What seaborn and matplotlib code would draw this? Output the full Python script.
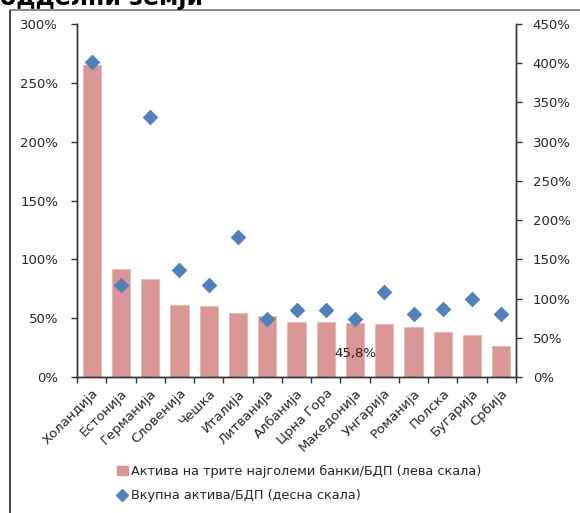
import numpy as np
import pandas as pd
import seaborn as sns
import matplotlib.pyplot as plt
from matplotlib.patches import Patch
from matplotlib.lines import Line2D
from matplotlib.ticker import PercentFormatter

# data
countries = ['Холандија', 'Естонија', 'Германија', 'Словенија', 'Чешка', 'Италија',
             'Литванија', 'Албанија', 'Црна Гора', 'Македонија', 'Унгарија',
             'Романија', 'Полска', 'Бугарија', 'Србија']
top3_assets = [265, 92, 83, 61.5, 60.5, 54.5, 51.5, 47, 46.5, 45.8, 45.3, 42.5, 38, 35.5, 26.5]
total_assets = [401, 117, 331, 137, 117, 179, 74, 85, 86, 74, 108, 80, 87, 100, 80]
left_ticks = [0, 50, 100, 150, 200, 250, 300]
right_ticks = [0, 50, 100, 150, 200, 250, 300, 350, 400, 450]

label_bar = 'Актива на трите најголеми банки/БДП (лева скала)'
label_pts = 'Вкупна актива/БДП (десна скала)'

BAR_COLOR = '#D99694'
PT_COLOR = '#4F81BD'
AXIS_COLOR = '#333333'

sns.set_style('ticks')
plt.rcParams['font.family'] = ['DejaVu Sans']

df = pd.DataFrame({'country': countries, 'top3': top3_assets, 'total': total_assets})

fig = plt.figure(figsize=(5.8, 5.13), dpi=100)
ax = fig.add_axes([77/580, 1 - 377/513, (516 - 77)/580, (377 - 24)/513])

sns.barplot(data=df, x='country', y='top3', color=BAR_COLOR, saturation=1,
            width=0.62, ax=ax, edgecolor='#E6B3B1', linewidth=0.5)

ax2 = ax.twinx()
sns.scatterplot(x=np.arange(len(countries)), y=df['total'], marker='D', s=64,
                color=PT_COLOR, edgecolor=PT_COLOR, linewidth=0, ax=ax2, zorder=5)

# data label on the Macedonia bar
i_mk = countries.index('Македонија')
ax.text(i_mk, top3_assets[i_mk] / 2 - 3, f"{top3_assets[i_mk]:.1f}%".replace('.', ','),
        ha='center', va='center', fontsize=9.5, color='#222222')

ax.set_xlim(-0.5, len(countries) - 0.5)
ax.set_ylim(0, 300)
ax2.set_ylim(0, 450)
ax.set_yticks(left_ticks)
ax2.set_yticks(right_ticks)
ax.yaxis.set_major_formatter(PercentFormatter(decimals=0))
ax2.yaxis.set_major_formatter(PercentFormatter(decimals=0))
ax.set_xlabel('')
ax.set_ylabel('')
ax2.set_ylabel('')

# category ticks at boundaries, labels rotated
ax.set_xticks(np.arange(len(countries)))
ax.set_xticklabels(countries, rotation=45, ha='right', va='top', rotation_mode='anchor',
                   fontsize=9.5)
ax.set_xticks(np.arange(-0.5, len(countries)), minor=True)
ax.tick_params(axis='x', which='major', bottom=True, length=0, pad=7)
ax.tick_params(axis='x', which='minor', bottom=True, length=4, width=1, color=AXIS_COLOR, direction='out')
ax.tick_params(axis='y', left=True, length=4, width=1, color=AXIS_COLOR, direction='out',
               labelsize=9.5, pad=9.5)
ax2.tick_params(axis='y', right=True, length=4, width=1, color=AXIS_COLOR, direction='out',
                labelsize=9.5, pad=8)

for a in (ax, ax2):
    a.spines['top'].set_visible(False)
    for s in ('left', 'right', 'bottom'):
        a.spines[s].set_visible(True)
        a.spines[s].set_color(AXIS_COLOR)
        a.spines[s].set_linewidth(1)
ax.grid(False)
ax2.grid(False)

# legend below the plot
handles = [Patch(facecolor=BAR_COLOR, edgecolor=BAR_COLOR, label=label_bar),
           Line2D([], [], marker='D', linestyle='none', markersize=6, color=PT_COLOR, label=label_pts)]
fig.legend(handles=handles, loc='upper left', bbox_to_anchor=(112/580, 1 - 460/513),
           frameon=False, fontsize=9.3, handlelength=0.8, handletextpad=0.3,
           labelspacing=0.85, borderaxespad=0)

# outer chart frame (left and top edges visible)
fig.add_artist(Line2D([10/580, 10/580], [0, 1 - 10/513], color='#222222', linewidth=1.2,
                      transform=fig.transFigure))
fig.add_artist(Line2D([10/580, 1], [1 - 10/513, 1 - 10/513], color='#777777', linewidth=1.2,
                      transform=fig.transFigure))

# title cut at the top edge
fig.text(0.0, 1 - 5/513, 'одделни земји', fontsize=17, fontweight='bold',
         ha='left', va='baseline', color='black')

fig.savefig('out.png', dpi=100)
